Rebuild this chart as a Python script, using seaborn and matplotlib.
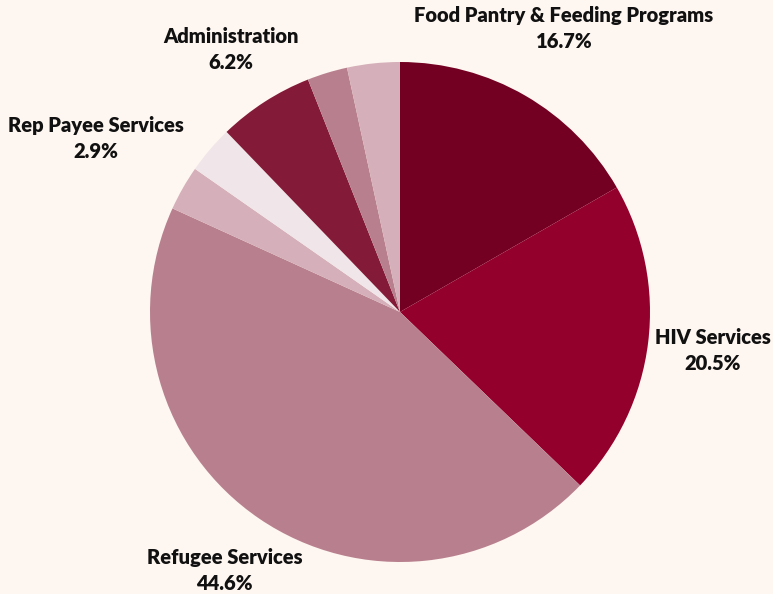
import numpy as np
import matplotlib
matplotlib.use("Agg")
import matplotlib.pyplot as plt
import seaborn as sns

# slices, clockwise from 12 o'clock
names = ["Food Pantry & Feeding Programs", "HIV Services", "Refugee Services",
         "Rep Payee Services", "", "Administration", "", ""]
values = [16.7, 20.5, 44.6, 2.9, 3.1, 6.2, 2.6, 3.4]
colors = ["#730022", "#94002C", "#B8808E", "#D5AFB9",
          "#F0E5E8", "#831A37", "#B8808E", "#D5AFB9"]
bg = "#FEF6F0"

sns.set_theme(style="white")
plt.rcParams["font.family"] = ["Lato", "DejaVu Sans"]

fig = plt.figure(figsize=(7.73, 5.94), dpi=100, facecolor=bg)
# pie centre at (400, 312) px, radius 250 px
ax = fig.add_axes([150 / 773, 32 / 594, 500 / 773, 500 / 594])
ax.set_facecolor(bg)

wedges, _ = ax.pie(values, colors=colors, startangle=90, counterclock=False,
                   radius=1, wedgeprops=dict(linewidth=0))
ax.set_xlim(-1, 1)
ax.set_ylim(-1, 1)
ax.axis("off")

dist = {"Food Pantry & Feeding Programs": 1.31, "HIV Services": 1.26,
        "Refugee Services": 1.25, "Rep Payee Services": 1.4,
        "Administration": 1.25}
for w, name, v in zip(wedges, names, values):
    if not name:
        continue
    mid = np.deg2rad((w.theta1 + w.theta2) / 2)
    r = dist[name]
    ax.text(r * np.cos(mid), r * np.sin(mid), f"{name}\n{v:.1f}%",
            ha="center", va="center", multialignment="center",
            fontsize=14.5, fontweight="heavy", color="#111111",
            linespacing=1.45, clip_on=False)

fig.savefig("out.png", dpi=100, facecolor=bg)
